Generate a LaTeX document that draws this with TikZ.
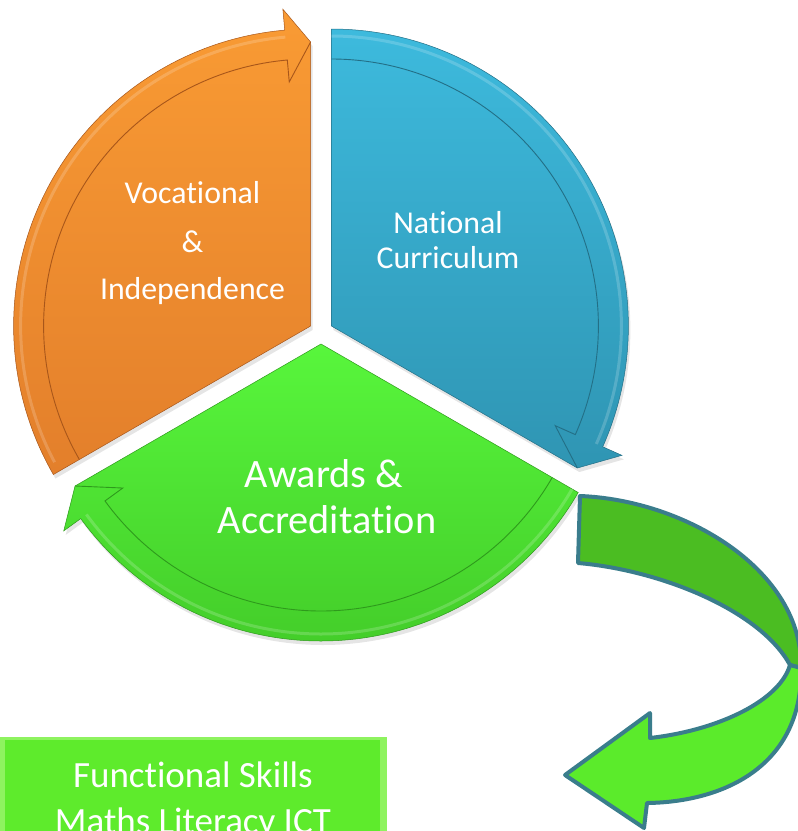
\documentclass[tikz,border=0pt]{standalone}
\usepackage{fontspec}
\setmainfont{Carlito}[Ligatures={NoCommon}]
\usetikzlibrary{calc}
\definecolor{orTop}{HTML}{F99B34}
\definecolor{orBot}{HTML}{E37F2B}
\definecolor{orLine}{HTML}{A8561A}
\definecolor{blTop}{HTML}{3DBADD}
\definecolor{blBot}{HTML}{2F95B3}
\definecolor{blLine}{HTML}{236F86}
\definecolor{grTop}{HTML}{58F63C}
\definecolor{grBot}{HTML}{44CE2A}
\definecolor{grLine}{HTML}{2E9A1C}
\definecolor{arDark}{HTML}{4BBD22}
\definecolor{arLight}{HTML}{5BEB2B}
\definecolor{arEdge}{HTML}{3A7D8C}
\definecolor{bxMain}{HTML}{5EEB2C}
\definecolor{bxLight}{HTML}{8EF35F}
\tikzset{
  sectorline/.style={line width=0.9pt},
  bandlight/.style={line width=3pt, white, opacity=0.18},
  shadowfill/.style={fill=black, opacity=0.10},
  lbl/.style={text=white, inner sep=0pt, anchor=base},
  midfont/.style={font=\fontsize{31.8}{38}\selectfont},
  bigfont/.style={font=\fontsize{40.3}{48}\selectfont},
  boxfont/.style={font=\fontsize{37}{44}\selectfont},
  curvearrow/.style={draw=arEdge, line width=4pt, line join=round},
}
\begin{document}
\begin{tikzpicture}[x=1pt,y=1pt]
\useasboundingbox (0,0) rectangle (798,-831);
\clip (0,0) rectangle (798,-831);
\fill[white] (0,0) rectangle (798,-831);

\coordinate (O) at (310.6,-326);
\coordinate (B) at (331.4,-326);
\coordinate (G) at (321,-344);

% soft shadows
\begin{scope}[shift={(O)}, xshift=2pt, yshift=-4pt]
  \fill[shadowfill] (0,0) -- (90:284) -- (95:318) -- (95:297)
    arc[start angle=95, end angle=210, radius=297] -- cycle;
\end{scope}
\begin{scope}[shift={(B)}, xshift=2pt, yshift=-4pt]
  \fill[shadowfill] (0,0) -- (90:297) arc[start angle=90, end angle=-24, radius=297]
    -- (-24:318) -- (-30:284) -- cycle;
\end{scope}
\begin{scope}[shift={(G)}, xshift=2pt, yshift=-4pt]
  \fill[shadowfill] (0,0) -- (-30:297) arc[start angle=-30, end angle=-144, radius=297]
    -- (-144:318) -- (-150:284) -- cycle;
\end{scope}

% orange sector
\begin{scope}[shift={(O)}]
  \shade[top color=orTop, bottom color=orBot, draw=orLine, line width=0.5pt]
    (0,0) -- (90:284) -- (95:318) -- (95:297)
    arc[start angle=95, end angle=210, radius=297] -- cycle;
  \draw[bandlight] (95:290) arc[start angle=95, end angle=208, radius=290];
  \draw[sectorline, orLine] (210:267) arc[start angle=210, end angle=95, radius=267]
    -- (95:245) -- (90:284);
\end{scope}

% blue sector
\begin{scope}[shift={(B)}]
  \shade[top color=blTop, bottom color=blBot, draw=blLine, line width=0.5pt]
    (0,0) -- (90:297) arc[start angle=90, end angle=-24, radius=297]
    -- (-24:318) -- (-30:284) -- cycle;
  \draw[bandlight] (90:290) arc[start angle=90, end angle=-24, radius=290];
  \draw[sectorline, blLine] (90:267) arc[start angle=90, end angle=-24, radius=267]
    -- (-24:245) -- (-30:284);
\end{scope}

% green sector
\begin{scope}[shift={(G)}]
  \shade[top color=grTop, bottom color=grBot, draw=grLine, line width=0.5pt]
    (0,0) -- (-30:297) arc[start angle=-30, end angle=-144, radius=297]
    -- (-144:318) -- (-150:284) -- cycle;
  \draw[bandlight] (-30:290) arc[start angle=-30, end angle=-144, radius=290];
  \draw[sectorline, grLine] (-30:267) arc[start angle=-30, end angle=-144, radius=267]
    -- (-144:245) -- (-150:284);
\end{scope}

% labels
\node[lbl, midfont] (voc1) at (192.5,-203) {Vocational};
\node[lbl, midfont] (voc2) at (192.5,-252) {\&};
\node[lbl, midfont] (voc3) at (192.5,-299) {Independence};
\node[lbl, midfont] (nat1) at (448,-233) {National};
\node[lbl, midfont] (nat2) at (448,-268) {Curriculum};
\node[lbl, bigfont] (aw1) at (324,-487) {Awards \&};
\node[lbl, bigfont] (aw2) at (327,-533) {Accreditation};

% big curved arrow
\coordinate (A1) at (580,-496);
\coordinate (A2) at (578,-563);
\coordinate (R) at (801,-668);
\coordinate (X) at (790,-665);
\coordinate (H1) at (650,-738);
\coordinate (H2) at (650,-713);
\coordinate (T) at (565,-775);
\coordinate (H3) at (644,-828);
\coordinate (H4) at (647,-803);
\filldraw[curvearrow, fill=arDark]
  (A1) .. controls (685,-500) and (803,-570) .. (R) -- (X)
  .. controls (760,-610) and (660,-570) .. (A2) -- cycle;
\filldraw[curvearrow, fill=arLight]
  (X) -- (R) .. controls (803,-765) and (725,-802) .. (H4) -- (H3) -- (T) -- (H2) -- (H1)
  .. controls (720,-730) and (780,-700) .. (X) -- cycle;

% bottom box
\fill[bxLight] (0,-737) rectangle (387,-850);
\fill[bxMain] (5,-740) rectangle (380,-850);
\node[lbl, boxfont] (fs1) at (193,-787) {Functional Skills};
\node[lbl, boxfont] (fs2) at (193,-833) {Maths Literacy ICT};
\end{tikzpicture}
\end{document}
